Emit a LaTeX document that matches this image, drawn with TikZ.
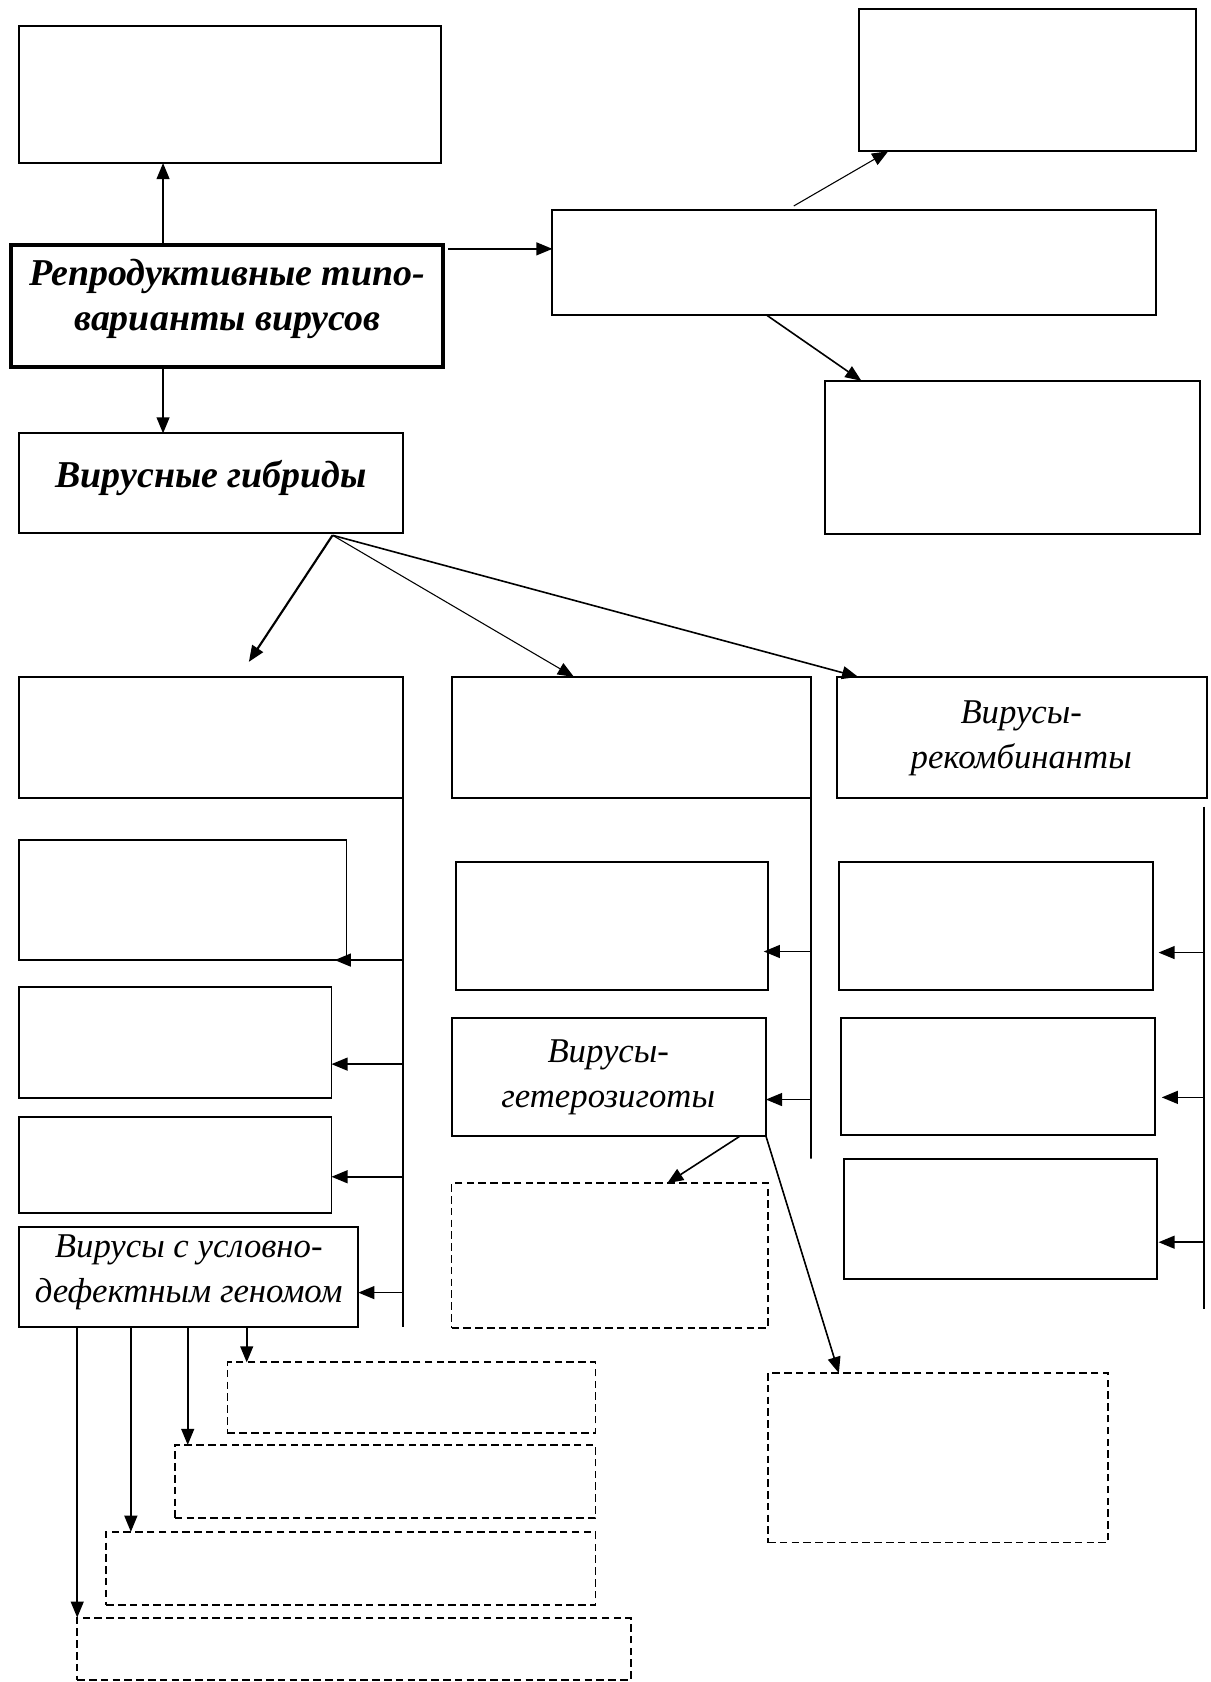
\documentclass[tikz,border=0pt]{standalone}
\usepackage{fontspec}
\setmainfont{Liberation Serif}
\usetikzlibrary{arrows.meta,fit,calc}
\begin{document}
\begin{tikzpicture}[x=1bp,y=-1bp,
 bx/.style={draw, line width=1.8bp, inner sep=0pt, outer sep=0pt},
 thickbx/.style={bx, line width=3.8bp},
 dbx/.style={draw, line width=1.6bp, inner sep=0pt, outer sep=0pt, dash pattern=on 7bp off 4bp},
 arr/.style={line width=1.5bp, -{Triangle[length=15bp,width=12bp]}},
 thinarr/.style={line width=1bp, -{Triangle[length=15bp,width=12bp]}},
 ln/.style={line width=1.8bp},
 bi/.style={font=\fontsize{35.5}{42}\selectfont\bfseries\itshape, align=center, inner sep=0pt},
 it/.style={font=\fontsize{32.5}{42}\selectfont\itshape, align=center, inner sep=0pt}]
\fill[white] (0,0) rectangle (1128,1568);
\useasboundingbox (0,0) rectangle (1128,1568);
% boxes
\node[bx, fit={(18,24) (411,152)}] (A) {};
\node[thickbx, fit={(10,228) (413,342)}] (M) {};
\node[bx, fit={(801,8) (1115,141)}] (C) {};
\node[bx, fit={(515,196) (1078,294)}] (B) {};
\node[bx, fit={(769,355) (1119,498)}] (D) {};
\node[bx, fit={(18,404) (376,497)}] (E) {};
\node[bx, fit={(18,631) (376,744)}] (F) {};
\node[bx, fit={(421,631) (756,744)}] (G) {};
\node[bx, fit={(780,631) (1125,744)}] (H) {};
\node[bx, fit={(18,783) (323,895)}] (F1) {};
\node[bx, fit={(18,920) (309,1024)}] (F2) {};
\node[bx, fit={(18,1041) (309,1131)}] (F3) {};
\node[bx, fit={(18,1144) (334,1237)}] (F4) {};
\node[bx, fit={(425,804) (716,923)}] (G1) {};
\node[bx, fit={(421,949) (714,1059)}] (G2) {};
\node[dbx, fit={(421,1103) (716,1238)}] (G3) {};
\node[dbx, fit={(716,1280) (1033,1438)}] (G4) {};
\node[bx, fit={(782,804) (1075,923)}] (H1) {};
\node[bx, fit={(784,949) (1077,1058)}] (H2) {};
\node[bx, fit={(787,1080) (1079,1192)}] (H3) {};
\node[dbx, fit={(212,1270) (555,1336)}] (L1) {};
\node[dbx, fit={(163,1347) (555,1415)}] (L2) {};
\node[dbx, fit={(99,1428) (555,1496)}] (L3) {};
\node[dbx, fit={(72,1508) (588,1566)}] (L4) {};
% texts
\node[bi] (tM) at (212,279) {Репродуктивные типо-\\варианты вирусов};
\node[bi] (tE) at (197,446) {Вирусные гибриды};
\node[it] (tH) at (952,688) {Вирусы-\\рекомбинанты};
\node[it] (tG2) at (567,1004) {Вирусы-\\гетерозиготы};
\node[it] (tF4) at (176,1186) {Вирусы с условно-\\дефектным геномом};
% top connectors
\coordinate (m1) at (152,228);
\draw[arr] (m1) -- (m1 |- A.south);
\coordinate (m2) at (418,232);
\draw[arr] (m2) -- (m2 -| B.west);
\coordinate (m3) at (152,342);
\draw[arr] (m3) -- (m3 |- E.north);
\coordinate (b1) at (740,192);
\draw[thinarr] (b1) -- ($(C.south west)+(27,0)$);
\draw[arr] ($(B.south west)+(200,0)$) -- ($(D.north west)+(34,0)$);
% from E
\coordinate (e1) at (310,499);
\coordinate (fTip) at (232,617);
\draw[line width=2bp, -{Triangle[length=15bp,width=12bp]}] (e1) -- (fTip);
\draw[thinarr] (e1) -- ($(G.north west)+(114,0)$);
\draw[arr] (e1) -- ($(H.north west)+(20,0)$);
% spines
\coordinate (Fs) at (376,1237);
\draw[ln] (F.south east) -- (Fs);
\coordinate (Gs) at (756,1080);
\draw[ln] (G.south east) -- (Gs);
\coordinate (Ht) at (1122,752);
\coordinate (Hb) at (1122,1220);
\draw[ln] (Ht) -- (Hb);
% left branches
\coordinate (f1) at (376,895);
\draw[arr] (f1) -- ($(f1 -| F1.east)+(-11,0)$);
\coordinate (f2) at (376,992);
\draw[arr] (f2) -- (f2 -| F2.east);
\coordinate (f3) at (376,1097);
\draw[arr] (f3) -- (f3 -| F3.east);
\coordinate (f4) at (376,1205);
\draw[arr] (f4) -- (f4 -| F4.east);
% middle branches
\coordinate (g1) at (756,887);
\draw[arr] (g1) -- ($(g1 -| G1.east)+(-4,0)$);
\coordinate (g2) at (756,1025);
\draw[arr] (g2) -- (g2 -| G2.east);
\draw[arr] ($(G2.south west)+(269,0)$) -- ($(G3.north west)+(201,0)$);
\draw[arr] (G2.south east) -- ($(G4.north west)+(66,0)$);
% right branches
\coordinate (h1) at (1122,888);
\draw[arr] (h1) -- ($(h1 -| H1.east)+(5,0)$);
\coordinate (h2) at (1122,1023);
\draw[arr] (h2) -- ($(h2 -| H2.east)+(6,0)$);
\coordinate (h3) at (1122,1158);
\draw[arr] (h3) -- ($(h3 -| H3.east)+(1,0)$);
% from F4 down
\coordinate (d1) at (230,1237);
\draw[arr] (d1) -- (d1 |- L1.north);
\coordinate (d2) at (175,1237);
\draw[arr] (d2) -- (d2 |- L2.north);
\coordinate (d3) at (122,1237);
\draw[arr] (d3) -- (d3 |- L3.north);
\coordinate (d4) at (72,1237);
\draw[arr] (d4) -- (d4 |- L4.north);
\end{tikzpicture}
\end{document}
